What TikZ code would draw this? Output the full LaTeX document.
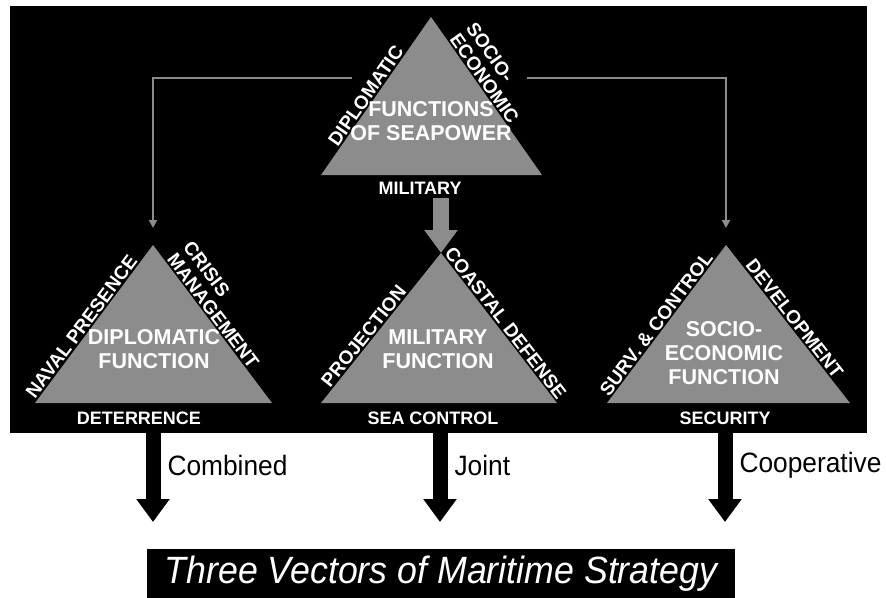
\documentclass[tikz,border=0pt]{standalone}
\usepackage{fontspec}
\setmainfont{Liberation Sans}
\newfontfamily\narrowsans{Liberation Sans}[FakeStretch=0.94]
\usepackage{tikz}
\usetikzlibrary{arrows.meta}
\usetikzlibrary{calc}
\definecolor{tgray}{gray}{0.55}
\tikzstyle{panel}=[fill=black,inner sep=0pt]
\tikzstyle{funcface}=[fill=tgray]
\tikzstyle{sidetext}=[text=white,font=\bfseries\fontsize{19}{20}\selectfont,sloped,above,inner sep=1.5pt,align=left]
\tikzstyle{innertext}=[text=white,font=\bfseries\fontsize{21.5}{24}\selectfont,align=center]
\tikzstyle{basetext}=[text=white,font=\bfseries\fontsize{18}{18}\selectfont]
\tikzstyle{vectortext}=[font=\narrowsans\fontsize{28}{28}\selectfont,right]
\tikzstyle{link}=[draw=tgray,line width=2pt,-{Triangle[length=8pt,width=8pt]}]
\tikzstyle{fatarrow}=[line width=15pt,-{Triangle[length=23pt,width=32pt]}]
\begin{document}
\begin{tikzpicture}[x=1pt,y=-1pt]

    \useasboundingbox (0,0) rectangle (886,597);
    \node[panel,minimum width=857pt,minimum height=427pt] (box) at (438.5,219.5) {};

    % corners of the four triangles: apex, left and right end of the base
    \foreach \name/\ax/\ay/\xl/\xr/\by in {t/431/17/321/542/175, l/153/245/35/272/403,
                                          m/441/253/321/557/403, r/726/245/607/850/403}
    {
        \coordinate (\name A) at (\ax,\ay);
        \coordinate (\name L) at (\xl,\by);
        \coordinate (\name R) at (\xr,\by);
        \fill[funcface] (\name A) -- (\name L) -- (\name R) -- cycle;
    }

    % text inside the triangles
    \foreach \pos/ \name / \label in {{(431,121)/seaF/{FUNCTIONS\\OF SEAPOWER}},
                                     {(154,349)/dipF/{DIPLOMATIC\\FUNCTION}},
                                     {(438,349)/milF/{MILITARY\\FUNCTION}},
                                     {(724,353)/socF/{SOCIO-\\ECONOMIC\\FUNCTION}}}
        \node[innertext] (\name) at \pos {\label};

    % text along the sides
    \foreach \from/ \to/ \where/ \name / \label in {tL/tA/0.47/dipS/DIPLOMATIC,
                                                 tA/tR/0.42/socS/{SOCIO-\\ECONOMIC},
                                                 lL/lA/0.45/navS/NAVAL PRESENCE,
                                                 lA/lR/0.45/criS/{CRISIS\\MANAGEMENT},
                                                 mL/mA/0.41/proS/PROJECTION,
                                                 mA/mR/0.50/coaS/COASTAL DEFENSE,
                                                 rL/rA/0.47/surS/{SURV. \& CONTROL},
                                                 rA/rR/0.50/devS/DEVELOPMENT}
        \path (\from) -- node[sidetext,pos=\where] (\name) {\label} (\to);

    % text under the bases
    \foreach \pos/ \name / \label in {{(420,188)/mil/MILITARY}, {(139,418)/deter/DETERRENCE},
                                     {(433,418)/seac/SEA CONTROL}, {(725,418)/secu/SECURITY}}
        \node[basetext] (\name) at \pos {\label};

    % Connect the top triangle with the three functions
    \coordinate (dipEnd) at (352,78);
    \coordinate (socEnd) at (527,78);
    \coordinate (lTip) at ($(lA)+(0,-17)$);
    \coordinate (rTip) at ($(rA)+(0,-17)$);
    \draw[link] (dipEnd) -| (lTip);
    \draw[link] (socEnd) -| (rTip);
    \draw[fatarrow,tgray,line width=16pt] (mA |- mil.south) -- (mA);

    % the three vectors
    \foreach \name/ \x / \label in {l/153/Combined, m/440/Joint, r/725/Cooperative}
    {
        \coordinate (\name End) at (\x,522);
        \draw[fatarrow] (\x,432) -- (\name End);
        \node[vectortext] (\name Vec) at ($(\name End)+(11,-57)$) {\label};
    }

    \node[fill=black,text=white,font=\narrowsans\itshape\fontsize{38}{38}\selectfont,
          minimum width=588pt,minimum height=50pt,inner sep=0pt] (title) at (441,574)
          {Three Vectors of Maritime Strategy};

\end{tikzpicture}
\end{document}
